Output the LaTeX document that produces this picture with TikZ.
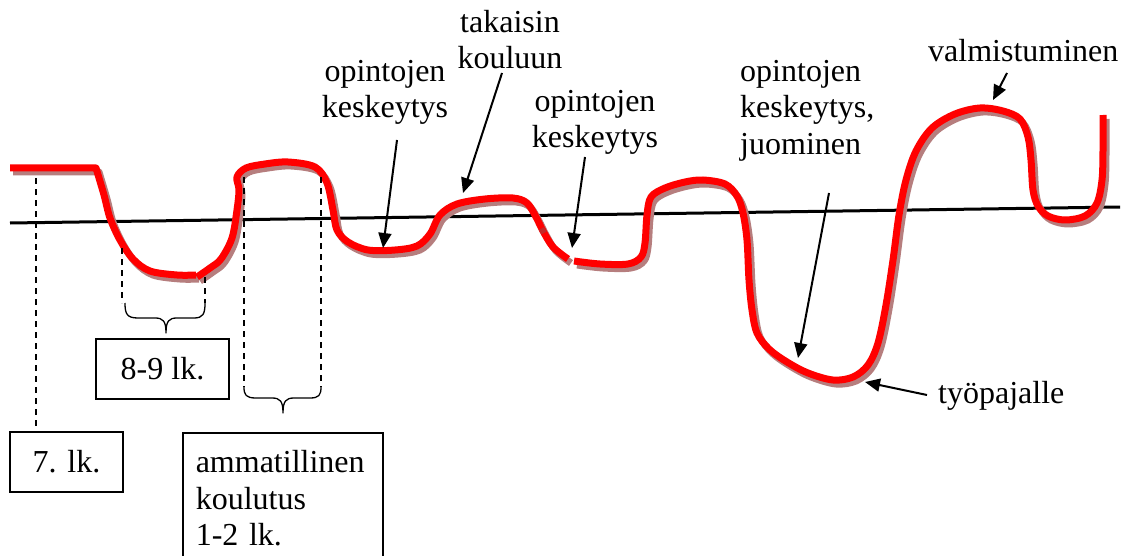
\documentclass[tikz,border=0pt]{standalone}
\usepackage{fontspec}
\setmainfont{Liberation Serif}
\usetikzlibrary{arrows.meta}
\definecolor{lifered}{RGB}{255,0,0}
\definecolor{lifeshade}{RGB}{182,126,126}
\definecolor{lifedark}{RGB}{196,40,40}

\begin{document}
\begin{tikzpicture}[x=1pt,y=-1pt,
  lbl/.style={font=\fontsize{32}{36.5}\selectfont, inner sep=0pt},
  boxed/.style={draw, line width=1.5pt, font=\fontsize{32}{36.5}\selectfont},
  ptr/.style={line width=2pt, -{Triangle[length=15pt,width=13pt]}},
  guide/.style={line width=1.3pt, dash pattern=on 6pt off 5pt},
  bracket/.style={line width=1.3pt, line join=round},
  level/.style={line width=3pt},
  lifeline/.style={line width=7pt, line join=round}]

\useasboundingbox (0,0) rectangle (1123,556);
\clip (0,0) rectangle (1123,556);

% reference level
\coordinate (lvlL) at (10,223);
\coordinate (lvlR) at (1120,207);
\draw[level] (lvlL) -- (lvlR);

% the life curve: shaded copy first, red on top
\foreach \dx/\dy/\col in {3/4/lifeshade, 0/0/lifered}{
  \begin{scope}[shift={(\dx,\dy)}]
  \draw[lifeline, \col] (10,168) -- (96,168) -- plot[smooth, tension=0.55] coordinates {
    (96,168) (104,195) (110,218) (120,240) (133,259) (150,271) (177,275) (196,275)};
  \draw[lifeline, \col] plot[smooth, tension=0.55] coordinates {
    (197,277) (210,268) (221,259) (232,238) (237,210) (239,190) (237,177) (246,168)
    (265,164) (288,162) (315,167) (327,183) (333,210) (337,230) (348,242) (368,250)
    (395,250) (417,246) (430,234) (440,215) (457,204) (485,199) (513,198) (527,203)
    (536,217) (543,231) (553,247) (568,259)};
  \draw[lifeline, \col] plot[smooth, tension=0.55] coordinates {
    (574,261) (600,264) (628,264) (641,257) (645,243) (647,215) (651,197) (665,188)
    (685,182) (703,180) (725,184) (737,196) (743,213) (747,240) (749,280) (752,310)
    (757,333) (769,349) (787,362) (808,373) (833,380) (853,377) (868,365) (878,343)
    (886,305) (893,260) (899,215) (906,180) (916,151) (932,128) (955,114) (980,108)
    (1003,111) (1020,119) (1028,137) (1031,160) (1033,190) (1038,206) (1048,216)
    (1065,220) (1085,216) (1097,203) (1102,180) (1103,150) (1103,115)};
  \end{scope}
}
% darker joint where two strokes of the curve overlap
\draw[lifeline, lifedark, line width=6pt] (541.5,228.5) -- (544,233);

% labels above the curve
\node[lbl, align=center, anchor=north] (brk1) at (385,60) {opintojen\\keskeytys};
\node[lbl, align=center, anchor=north] (back) at (510,10) {takaisin\\kouluun};
\node[lbl, align=center, anchor=north] (brk2) at (595,90) {opintojen\\keskeytys};
\node[lbl, align=left, anchor=north west] (brk3) at (740,60) {opintojen\\keskeytys,\\juominen};
\node[lbl, anchor=base west] (grad) at (928,62) {valmistuminen};
\node[lbl, anchor=base west] (work) at (938,403) {työpajalle};

% pointer arrows
\coordinate (brk1t) at (397,140);  \coordinate (brk1h) at (383,248);
\coordinate (backt) at (502,73);   \coordinate (backh) at (463,193);
\coordinate (brk2t) at (585,157);  \coordinate (brk2h) at (572,248);
\coordinate (brk3t) at (829,193);  \coordinate (brk3h) at (798,358);
\coordinate (gradt) at (1007,73);  \coordinate (gradh) at (993,100);
\coordinate (workt) at (927,395);  \coordinate (workh) at (865,382);
\draw[ptr] (brk1t) -- (brk1h);
\draw[ptr] (backt) -- (backh);
\draw[ptr] (brk2t) -- (brk2h);
\draw[ptr] (brk3t) -- (brk3h);
\draw[ptr] (gradt) -- (gradh);
\draw[ptr] (workt) -- (workh);

% grade boxes
\node[boxed, minimum width=113pt, minimum height=60pt, inner sep=0pt] (g7) at (66.5,462) {7. lk.};
\node[boxed, minimum width=133pt, minimum height=60pt, inner sep=0pt] (g89) at (162.5,369) {8-9 lk.};
\node[boxed, anchor=north west, text width=174pt, align=left, inner xsep=13pt, inner ysep=18pt]
  (voc) at (182,432) {ammatillinen\\koulutus\\1-2 lk.};

% dashed period markers
\coordinate (d7) at (36,178);
\draw[guide] (d7) -- (d7 |- g7.north);

\coordinate (d8a) at (122,248);  \coordinate (d8b) at (205,277);
\draw[guide] (d8a) -- (122,303);
\draw[guide] (d8b) -- (205,303);
\coordinate (b89tip) at (166,333);
\draw[bracket] (125,303) .. controls (125,314) and (127,318) .. (138,318) -- (155,318)
  .. controls (163,318) and (166,321) .. (b89tip)
  .. controls (166,321) and (169,318) .. (177,318) -- (194,318)
  .. controls (203,318) and (205,314) .. (205,303);

\coordinate (dva) at (244,177);  \coordinate (dvb) at (321,177);
\draw[guide] (dva) -- (244,387);
\draw[guide] (dvb) -- (321,387);
\coordinate (bvoctip) at (283,413);
\draw[bracket] (244,387) .. controls (244,395) and (246,398) .. (256,398) -- (272,398)
  .. controls (280,398) and (283,401) .. (bvoctip)
  .. controls (283,401) and (286,398) .. (294,398) -- (310,398)
  .. controls (319,398) and (321,395) .. (321,387);

\end{tikzpicture}
\end{document}
